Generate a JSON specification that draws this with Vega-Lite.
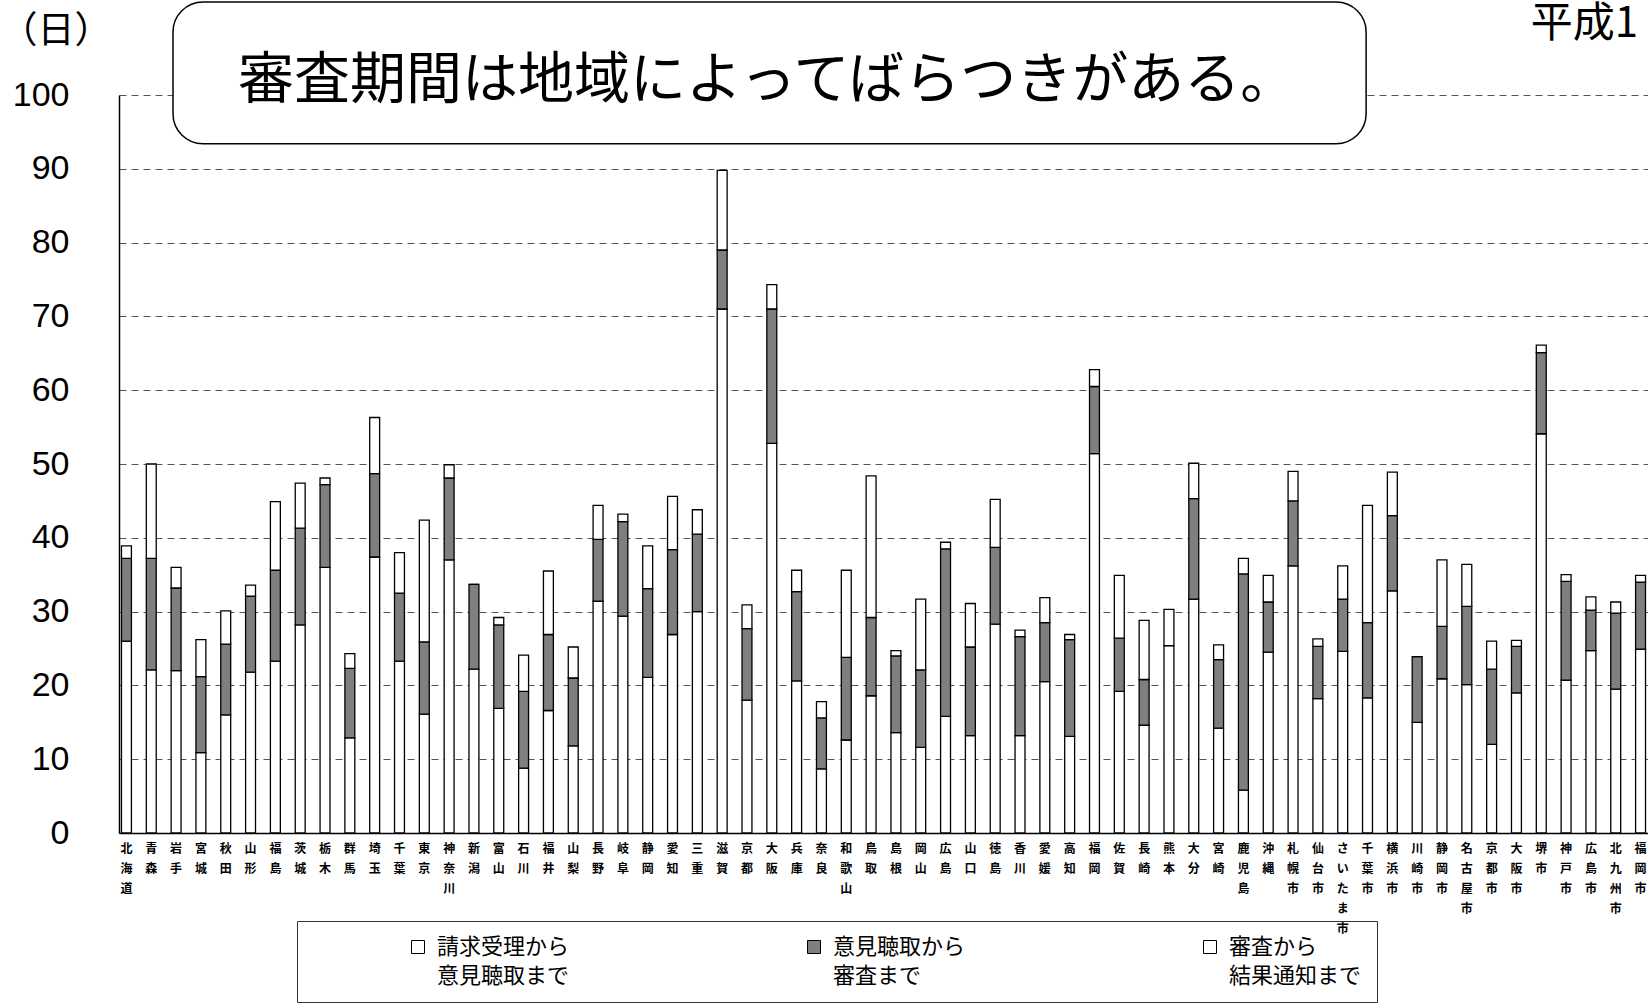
{
  "$schema": "https://vega.github.io/schema/vega-lite/v6.json",
  "width": 1529,
  "height": 738,
  "autosize": {"type": "none"},
  "padding": {"left": 119, "top": 95, "right": 0, "bottom": 173},
  "background": "white",
  "config": {"view": {"stroke": null}, "font": "Noto Sans CJK JP", "style": {"guide-label": {"lineHeight": 29}}},
  "resolve": {"scale": {"x": "independent"}},
  "layer": [
    {
      "data": {"values": [
        {"地域": "北海道", "請求受理から意見聴取まで": 26.0, "意見聴取から審査まで": 11.2, "審査から結果通知まで": 1.7},
        {"地域": "青森", "請求受理から意見聴取まで": 22.1, "意見聴取から審査まで": 15.1, "審査から結果通知まで": 12.8},
        {"地域": "岩手", "請求受理から意見聴取まで": 22.0, "意見聴取から審査まで": 11.2, "審査から結果通知まで": 2.8},
        {"地域": "宮城", "請求受理から意見聴取まで": 10.9, "意見聴取から審査まで": 10.3, "審査から結果通知まで": 5.0},
        {"地域": "秋田", "請求受理から意見聴取まで": 16.0, "意見聴取から審査まで": 9.6, "審査から結果通知まで": 4.5},
        {"地域": "山形", "請求受理から意見聴取まで": 21.8, "意見聴取から審査まで": 10.3, "審査から結果通知まで": 1.5},
        {"地域": "福島", "請求受理から意見聴取まで": 23.3, "意見聴取から審査まで": 12.3, "審査から結果通知まで": 9.3},
        {"地域": "茨城", "請求受理から意見聴取まで": 28.2, "意見聴取から審査まで": 13.1, "審査から結果通知まで": 6.1},
        {"地域": "栃木", "請求受理から意見聴取まで": 36.0, "意見聴取から審査まで": 11.2, "審査から結果通知まで": 0.9},
        {"地域": "群馬", "請求受理から意見聴取まで": 12.9, "意見聴取から審査まで": 9.4, "審査から結果通知まで": 2.0},
        {"地域": "埼玉", "請求受理から意見聴取まで": 37.4, "意見聴取から審査まで": 11.3, "審査から結果通知まで": 7.6},
        {"地域": "千葉", "請求受理から意見聴取まで": 23.3, "意見聴取から審査まで": 9.2, "審査から結果通知まで": 5.5},
        {"地域": "東京", "請求受理から意見聴取まで": 16.1, "意見聴取から審査まで": 9.8, "審査から結果通知まで": 16.5},
        {"地域": "神奈川", "請求受理から意見聴取まで": 37.0, "意見聴取から審査まで": 11.1, "審査から結果通知まで": 1.8},
        {"地域": "新潟", "請求受理から意見聴取まで": 22.2, "意見聴取から審査まで": 11.5, "審査から結果通知まで": 0},
        {"地域": "富山", "請求受理から意見聴取まで": 16.9, "意見聴取から審査まで": 11.3, "審査から結果通知まで": 1.0},
        {"地域": "石川", "請求受理から意見聴取まで": 8.8, "意見聴取から審査まで": 10.4, "審査から結果通知まで": 4.9},
        {"地域": "福井", "請求受理から意見聴取まで": 16.6, "意見聴取から審査まで": 10.3, "審査から結果通知まで": 8.6},
        {"地域": "山梨", "請求受理から意見聴取まで": 11.8, "意見聴取から審査まで": 9.2, "審査から結果通知まで": 4.2},
        {"地域": "長野", "請求受理から意見聴取まで": 31.4, "意見聴取から審査まで": 8.4, "審査から結果通知まで": 4.6},
        {"地域": "岐阜", "請求受理から意見聴取まで": 29.4, "意見聴取から審査まで": 12.8, "審査から結果通知まで": 1.0},
        {"地域": "静岡", "請求受理から意見聴取まで": 21.1, "意見聴取から審査まで": 12.0, "審査から結果通知まで": 5.8},
        {"地域": "愛知", "請求受理から意見聴取まで": 26.9, "意見聴取から審査まで": 11.5, "審査から結果通知まで": 7.2},
        {"地域": "三重", "請求受理から意見聴取まで": 30.0, "意見聴取から審査まで": 10.5, "審査から結果通知まで": 3.3},
        {"地域": "滋賀", "請求受理から意見聴取まで": 71.0, "意見聴取から審査まで": 8.0, "審査から結果通知まで": 10.8},
        {"地域": "京都", "請求受理から意見聴取まで": 18.0, "意見聴取から審査まで": 9.7, "審査から結果通知まで": 3.2},
        {"地域": "大阪", "請求受理から意見聴取まで": 52.8, "意見聴取から審査まで": 18.2, "審査から結果通知まで": 3.3},
        {"地域": "兵庫", "請求受理から意見聴取まで": 20.6, "意見聴取から審査まで": 12.1, "審査から結果通知まで": 2.9},
        {"地域": "奈良", "請求受理から意見聴取まで": 8.7, "意見聴取から審査まで": 6.9, "審査から結果通知まで": 2.2},
        {"地域": "和歌山", "請求受理から意見聴取まで": 12.6, "意見聴取から審査まで": 11.2, "審査から結果通知まで": 11.8},
        {"地域": "鳥取", "請求受理から意見聴取まで": 18.6, "意見聴取から審査まで": 10.6, "審査から結果通知まで": 19.2},
        {"地域": "島根", "請求受理から意見聴取まで": 13.6, "意見聴取から審査まで": 10.4, "審査から結果通知まで": 0.7},
        {"地域": "岡山", "請求受理から意見聴取まで": 11.6, "意見聴取から審査まで": 10.5, "審査から結果通知まで": 9.6},
        {"地域": "広島", "請求受理から意見聴取まで": 15.8, "意見聴取から審査まで": 22.7, "審査から結果通知まで": 0.9},
        {"地域": "山口", "請求受理から意見聴取まで": 13.2, "意見聴取から審査まで": 12.0, "審査から結果通知まで": 5.9},
        {"地域": "徳島", "請求受理から意見聴取まで": 28.3, "意見聴取から審査まで": 10.4, "審査から結果通知まで": 6.5},
        {"地域": "香川", "請求受理から意見聴取まで": 13.2, "意見聴取から審査まで": 13.4, "審査から結果通知まで": 0.9},
        {"地域": "愛媛", "請求受理から意見聴取まで": 20.5, "意見聴取から審査まで": 8.0, "審査から結果通知まで": 3.4},
        {"地域": "高知", "請求受理から意見聴取まで": 13.1, "意見聴取から審査まで": 13.1, "審査から結果通知まで": 0.7},
        {"地域": "福岡", "請求受理から意見聴取まで": 51.4, "意見聴取から審査まで": 9.1, "審査から結果通知まで": 2.3},
        {"地域": "佐賀", "請求受理から意見聴取まで": 19.2, "意見聴取から審査まで": 7.2, "審査から結果通知まで": 8.5},
        {"地域": "長崎", "請求受理から意見聴取まで": 14.6, "意見聴取から審査まで": 6.2, "審査から結果通知まで": 8.0},
        {"地域": "熊本", "請求受理から意見聴取まで": 25.4, "意見聴取から審査まで": 0, "審査から結果通知まで": 4.9},
        {"地域": "大分", "請求受理から意見聴取まで": 31.7, "意見聴取から審査まで": 13.6, "審査から結果通知まで": 4.8},
        {"地域": "宮崎", "請求受理から意見聴取まで": 14.2, "意見聴取から審査まで": 9.3, "審査から結果通知まで": 2.0},
        {"地域": "鹿児島", "請求受理から意見聴取まで": 5.8, "意見聴取から審査まで": 29.3, "審査から結果通知まで": 2.1},
        {"地域": "沖縄", "請求受理から意見聴取まで": 24.5, "意見聴取から審査まで": 6.8, "審査から結果通知まで": 3.6},
        {"地域": "札幌市", "請求受理から意見聴取まで": 36.2, "意見聴取から審査まで": 8.8, "審査から結果通知まで": 4.0},
        {"地域": "仙台市", "請求受理から意見聴取まで": 18.2, "意見聴取から審査まで": 7.1, "審査から結果通知まで": 1.0},
        {"地域": "さいたま市", "請求受理から意見聴取まで": 24.6, "意見聴取から審査まで": 7.1, "審査から結果通知まで": 4.5},
        {"地域": "千葉市", "請求受理から意見聴取まで": 18.3, "意見聴取から審査まで": 10.2, "審査から結果通知まで": 15.9},
        {"地域": "横浜市", "請求受理から意見聴取まで": 32.8, "意見聴取から審査まで": 10.2, "審査から結果通知まで": 5.9},
        {"地域": "川崎市", "請求受理から意見聴取まで": 15.0, "意見聴取から審査まで": 8.9, "審査から結果通知まで": 0},
        {"地域": "静岡市", "請求受理から意見聴取まで": 20.9, "意見聴取から審査まで": 7.1, "審査から結果通知まで": 9.0},
        {"地域": "名古屋市", "請求受理から意見聴取まで": 20.1, "意見聴取から審査まで": 10.6, "審査から結果通知まで": 5.7},
        {"地域": "京都市", "請求受理から意見聴取まで": 12.0, "意見聴取から審査まで": 10.2, "審査から結果通知まで": 3.8},
        {"地域": "大阪市", "請求受理から意見聴取まで": 19.0, "意見聴取から審査まで": 6.3, "審査から結果通知まで": 0.8},
        {"地域": "堺市", "請求受理から意見聴取まで": 54.1, "意見聴取から審査まで": 11.0, "審査から結果通知まで": 1.0},
        {"地域": "神戸市", "請求受理から意見聴取まで": 20.7, "意見聴取から審査まで": 13.4, "審査から結果通知まで": 0.9},
        {"地域": "広島市", "請求受理から意見聴取まで": 24.7, "意見聴取から審査まで": 5.5, "審査から結果通知まで": 1.8},
        {"地域": "北九州市", "請求受理から意見聴取まで": 19.5, "意見聴取から審査まで": 10.3, "審査から結果通知まで": 1.5},
        {"地域": "福岡市", "請求受理から意見聴取まで": 24.9, "意見聴取から審査まで": 9.1, "審査から結果通知まで": 0.9}
      ]},
      "transform": [
        {"fold": ["請求受理から意見聴取まで", "意見聴取から審査まで", "審査から結果通知まで"], "as": ["区分", "日数"]}
      ],
      "mark": {"type": "bar", "stroke": "black", "strokeWidth": 1.3},
      "encoding": {
        "x": {
          "field": "地域", "type": "nominal", "sort": null,
          "scale": {"paddingInner": 0.6, "paddingOuter": 0.1},
          "axis": {
            "title": null, "labelAngle": 0, "labelExpr": "split(datum.label, '')",
            "labelFont": "Noto Sans CJK JP", "labelFontSize": 12, "labelFontWeight": "bold",
            "labelLineHeight": 20, "labelBaseline": "top", "labelAlign": "center", "labelPadding": 10,
            "labelColor": "black", "labelOverlap": false, "labelLimit": 100,
            "ticks": false, "domainColor": "black", "domainWidth": 1.5
          }
        },
        "y": {
          "field": "日数", "type": "quantitative", "stack": "zero",
          "scale": {"domain": [0, 100], "nice": false},
          "axis": {
            "values": [0, 10, 20, 30, 40, 50, 60, 70, 80, 90, 100],
            "title": "（日）", "titleAngle": 0, "titleX": -119, "titleY": -64,
            "titleAlign": "left", "titleBaseline": "middle", "titleFontSize": 37,
            "titleFontWeight": "normal", "titleFont": "Noto Sans CJK JP", "titleColor": "black",
            "labelFont": "Liberation Sans", "labelFontSize": 34, "labelPadding": 50, "labelColor": "black",
            "ticks": false, "domainColor": "black", "domainWidth": 1.5,
            "grid": true, "gridColor": "#555555", "gridDash": [7, 5], "gridWidth": 1
          }
        },
        "fill": {
          "field": "区分", "type": "nominal",
          "scale": {"domain": ["請求受理から意見聴取まで", "意見聴取から審査まで", "審査から結果通知まで"], "range": ["#ffffff", "#7f7f7f", "#ffffff"]},
          "legend": {
            "orient": "none", "legendX": 178, "legendY": 826, "direction": "horizontal", "title": null,
            "symbolType": "square", "symbolSize": 169, "symbolStrokeColor": "black", "symbolStrokeWidth": 1,
            "symbolOffset": 95,
            "labelFont": "Noto Sans CJK JP", "labelFontSize": 22, "labelColor": "black",
            "labelBaseline": "middle", "labelLimit": 300, "labelOffset": 8,
            "labelExpr": "datum.label == '請求受理から意見聴取まで' ? ['請求受理から', '意見聴取まで'] : datum.label == '意見聴取から審査まで' ? ['意見聴取から', '審査まで'] : ['審査から', '結果通知まで']",
            "columnPadding": 138, "padding": 15, "strokeColor": "#333333"
          }
        },
        "order": {"field": "区分", "sort": "descending"}
      }
    },
    {
      "data": {"values": [{}]},
      "mark": {"type": "rect", "fill": "white", "stroke": "black", "strokeWidth": 1.5, "cornerRadius": 30},
      "encoding": {
        "x": {"datum": 2.19, "type": "quantitative", "scale": {"domain": [0, 62], "nice": false, "zero": false}, "axis": null},
        "x2": {"datum": 50.57},
        "y": {"datum": 112.6, "type": "quantitative", "scale": {"domain": [0, 100], "nice": false}},
        "y2": {"datum": 93.4}
      }
    },
    {
      "data": {"values": [{}]},
      "mark": {"type": "text", "font": "Noto Sans CJK JP", "fontSize": 56, "align": "center", "baseline": "middle", "color": "black"},
      "encoding": {
        "x": {"datum": 26.28, "type": "quantitative", "scale": {"domain": [0, 62], "nice": false, "zero": false}, "axis": null},
        "y": {"datum": 101.9, "type": "quantitative", "scale": {"domain": [0, 100], "nice": false}},
        "text": {"value": "審査期間は地域によってばらつきがある。"}
      }
    },
    {
      "data": {"values": [{}]},
      "mark": {"type": "text", "font": "Noto Sans CJK JP", "fontSize": 42, "align": "right", "baseline": "middle", "color": "black"},
      "encoding": {
        "x": {"datum": 61.6, "type": "quantitative", "scale": {"domain": [0, 62], "nice": false, "zero": false}, "axis": null},
        "y": {"datum": 109.6, "type": "quantitative", "scale": {"domain": [0, 100], "nice": false}},
        "text": {"value": "平成1"}
      }
    }
  ]
}
